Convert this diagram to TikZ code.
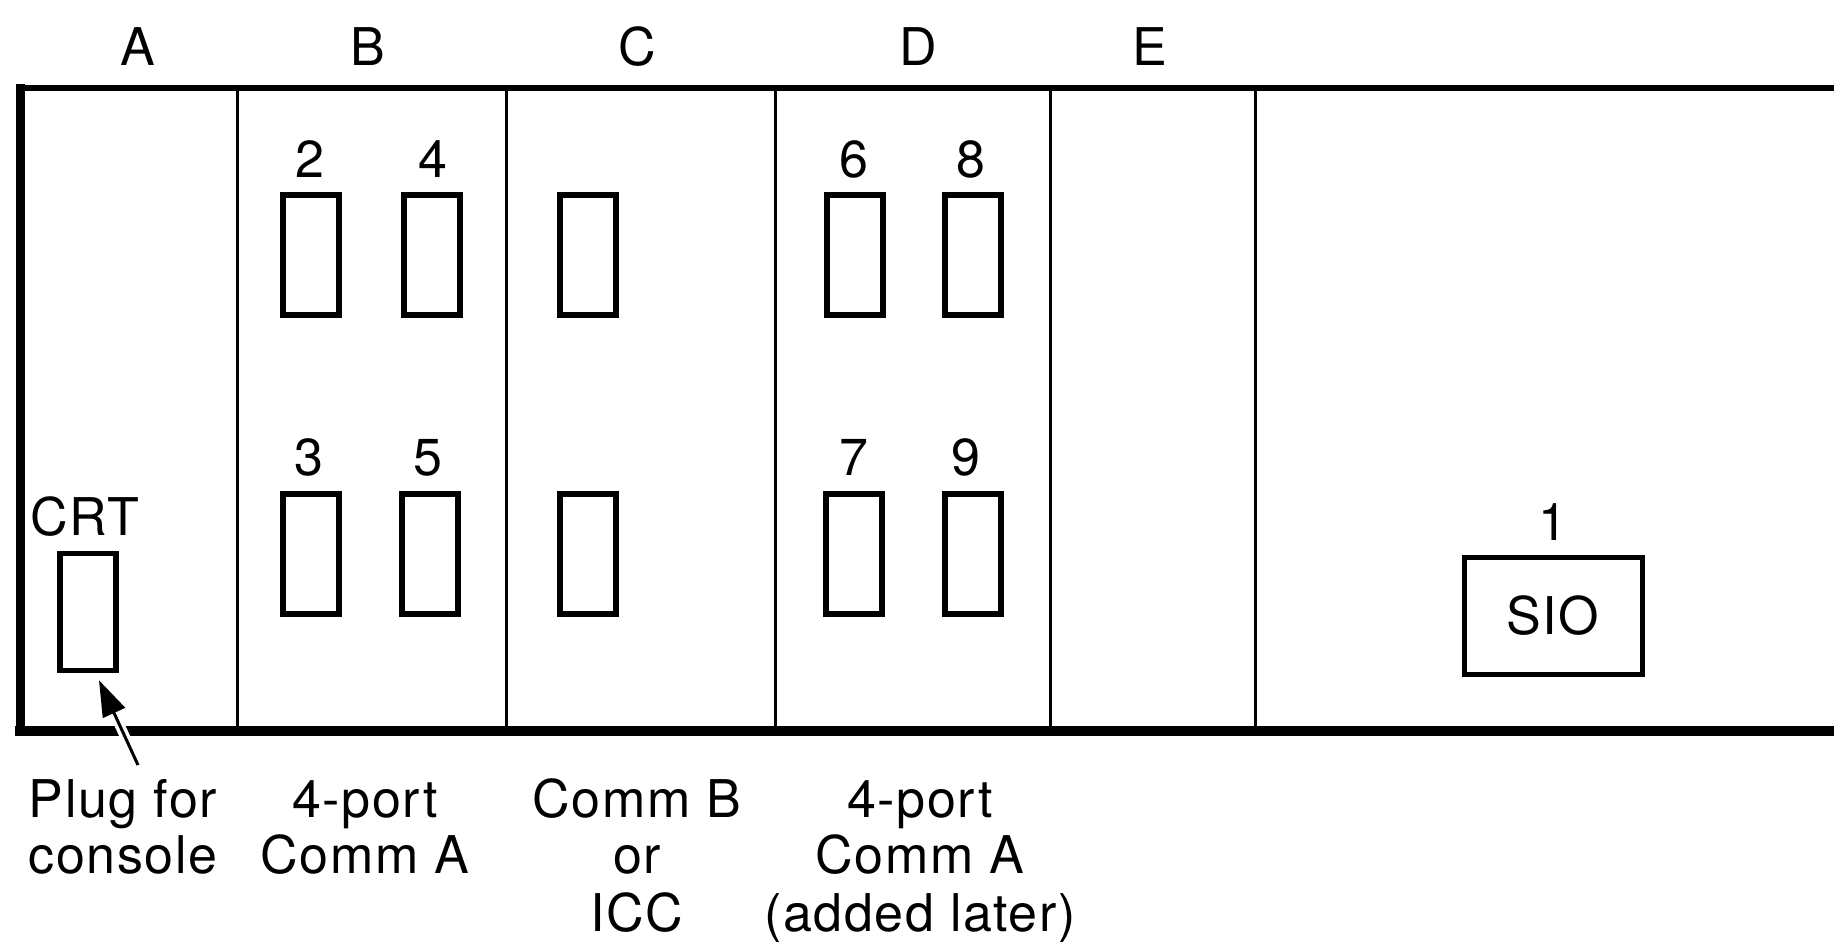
\documentclass[tikz,border=0pt]{standalone}
\usepackage{fontspec}
\setmainfont[LetterSpace=3]{TeX Gyre Heros}
\usetikzlibrary{arrows.meta,calc}
\begin{document}
\begin{tikzpicture}[x=1pt,y=-1pt,
  port/.style={draw,line width=5.5pt,minimum width=56pt,minimum height=120pt,inner sep=0pt},
  sio/.style={draw,line width=5pt,minimum width=178pt,minimum height=117pt,inner sep=0pt,font=\fontsize{52}{60}\selectfont},
  lbl/.style={font=\fontsize{52}{60}\selectfont,inner sep=0pt,anchor=base},
  divider/.style={line width=3pt},
  plugarrow/.style={line width=3pt,-{Triangle[length=36pt,width=24pt]}}]
\useasboundingbox (0,0) rectangle (1834,943);
\fill[white] (0,0) rectangle (1834,943);

% card cage frame
\draw[line width=6pt,line cap=rect] (20,88) -- (1860,88);
\draw[line width=10pt,line cap=rect] (20,731) -- (1860,731);
\draw[line width=9pt,line cap=rect] (20,88) -- (20,731);
\foreach \x in {237,506,775,1050,1255}
  \draw[divider] (\x,88) -- (\x,731);

% slot letters
\node[lbl] (slotA) at (138,65) {A};
\node[lbl] (slotB) at (368,65) {B};
\node[lbl] (slotC) at (637,65) {C};
\node[lbl] (slotD) at (918,65) {D};
\node[lbl] (slotE) at (1150,65) {E};

% slot A: console plug
\node[port,minimum height=117pt] (crt) at (88,612) {};
\node[lbl] (crtlbl) at (85,535) {CRT};

% slot B: 4-port Comm A
\node[port] (p2) at (311,255) {};
\node[port] (p4) at (432,255) {};
\node[port] (p3) at (311,554) {};
\node[port] (p5) at (430,554) {};
\node[lbl] (l2) at (310,177) {2};
\node[lbl] (l4) at (433,177) {4};
\node[lbl] (l3) at (309,475) {3};
\node[lbl] (l5) at (428,475) {5};

% slot C: Comm B or ICC
\node[port] (c1) at (588,255) {};
\node[port] (c2) at (588,554) {};

% slot D: 4-port Comm A (added later)
\node[port] (p6) at (855,255) {};
\node[port] (p8) at (973,255) {};
\node[port] (p7) at (854,554) {};
\node[port] (p9) at (973,554) {};
\node[lbl] (l6) at (854,177) {6};
\node[lbl] (l8) at (971,177) {8};
\node[lbl] (l7) at (854,475) {7};
\node[lbl] (l9) at (966,475) {9};

% on-board SIO port
\node[sio] (siobox) at (1553,616) {SIO};
\node[lbl] (l1) at (1553,540) {1};

% captions below the cage
\node[lbl] (capA1) at (123,817) {Plug for};
\node[lbl] (capA2) at (123,873) {console};
\node[lbl] (capB1) at (365,817) {4-port};
\node[lbl] (capB2) at (365,873) {Comm A};
\node[lbl] (capC1) at (637,817) {Comm B};
\node[lbl] (capC2) at (637,873) {or};
\node[lbl] (capC3) at (637,931) {ICC};
\node[lbl] (capD1) at (920,817) {4-port};
\node[lbl] (capD2) at (920,873) {Comm A};
\node[lbl] (capD3) at (920,931) {(added later)};

% pointer from caption to the console plug, cutting through the frame
\coordinate (plugtail) at (138,765);
\coordinate (plugtip) at ([xshift=11pt,yshift=-7pt]crt.south);
\draw[white,line width=10pt] ($(plugtail)!0.2!(plugtip)$) -- ($(plugtail)!0.55!(plugtip)$);
\draw[plugarrow] (plugtail) -- (plugtip);
\end{tikzpicture}
\end{document}
